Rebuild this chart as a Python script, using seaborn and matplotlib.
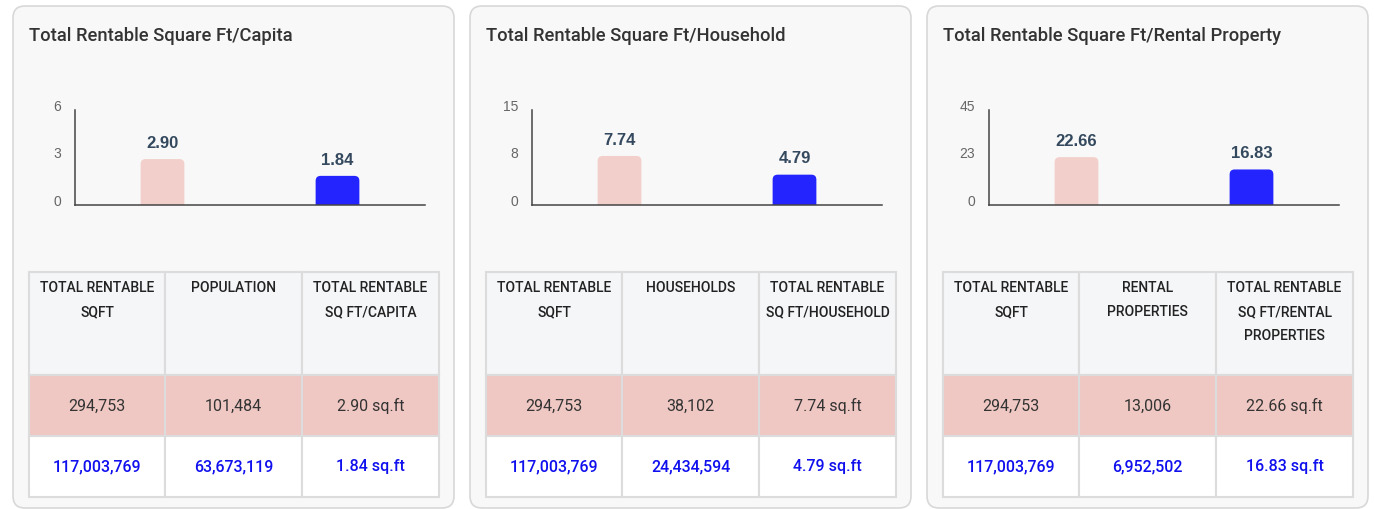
import numpy as np
import pandas as pd
import seaborn as sns
import matplotlib.pyplot as plt
from matplotlib.patches import FancyBboxPatch, Rectangle
from matplotlib.transforms import ScaledTranslation

# chart data
titles = ["Total Rentable Square Ft/Capita",
          "Total Rentable Square Ft/Household",
          "Total Rentable Square Ft/Rental Property"]
categories = ["Local", "Benchmark"]
local_ratio = [2.90, 7.74, 22.66]
bench_ratio = [1.84, 4.79, 16.83]
axis_max = [6, 15, 45]

local_sqft = 294753
bench_sqft = 117003769
local_denom = [101484, 38102, 13006]
bench_denom = [63673119, 24434594, 6952502]

col_headers = [
    ["TOTAL RENTABLE\nSQFT", "POPULATION", "TOTAL RENTABLE\nSQ FT/CAPITA"],
    ["TOTAL RENTABLE\nSQFT", "HOUSEHOLDS", "TOTAL RENTABLE\nSQ FT/HOUSEHOLD"],
    ["TOTAL RENTABLE\nSQFT", "RENTAL\nPROPERTIES", "TOTAL RENTABLE\nSQ FT/RENTAL\nPROPERTIES"],
]

PINK = "#f2cfca"
BLUE = "#2424ff"
ROW_PINK = "#efc8c3"
HEAD_BG = "#f5f6f8"
GRID = "#dcdcdc"
CARD_BG = "#f8f8f8"

sns.set_theme(style="white")
plt.rcParams["font.family"] = ["Roboto", "DejaVu Sans"]

W, H = 1374, 509
fig = plt.figure(figsize=(W / 100, H / 100), dpi=100)
fig.patch.set_facecolor("white")

# full-figure overlay in pixel coords (y down)
bg = fig.add_axes([0, 0, 1, 1], zorder=0)
bg.set_xlim(0, W)
bg.set_ylim(H, 0)
bg.axis("off")

card_step = 457
for i in range(3):
    ox = i * card_step

    # card
    bg.add_patch(FancyBboxPatch((ox + 13, 6), 441, 502,
                                boxstyle="round,pad=0,rounding_size=12",
                                fc=CARD_BG, ec="#d8d8d8", lw=1.2))
    bg.text(ox + 29, 36, titles[i], fontsize=13.2, fontweight=500,
            color="#333333", ha="left", va="center")

    # bar chart
    ax = fig.add_axes([(ox + 75) / W, (H - 205) / H, 350 / W, 95 / H],
                      zorder=2)
    ax.set_facecolor("none")
    df = pd.DataFrame({"group": categories,
                       "value": [local_ratio[i], bench_ratio[i]]})
    sns.barplot(data=df, x="group", y="value", hue="group",
                palette=[PINK, BLUE], width=0.25, saturation=1,
                legend=False, ax=ax)
    ax.set_xlim(-0.5, 1.5)
    ax.set_ylim(0, axis_max[i])
    ticks = [0, axis_max[i] / 2, axis_max[i]]
    ax.set_yticks(ticks)
    ax.set_yticklabels([str(int(t + 0.5)) for t in ticks],
                       fontsize=10, color="#666666",
                       family=["Liberation Sans", "DejaVu Sans"])
    ax.tick_params(axis="y", length=0, pad=10)
    ax.set_xticks([])
    ax.set_xlabel("")
    ax.set_ylabel("")
    for side in ["top", "right"]:
        ax.spines[side].set_visible(False)
    for side in ["left", "bottom"]:
        ax.spines[side].set_color("#444444")
        ax.spines[side].set_linewidth(1.1)
    off = ScaledTranslation(0, 4.5 / 100, fig.dpi_scale_trans)
    for lab in ax.get_yticklabels():
        lab.set_transform(lab.get_transform() + off)

    # rounded top corners for the bars
    to_px = ax.transData + bg.transData.inverted()
    for p in ax.patches:
        x0, y0 = p.get_x(), p.get_y()
        (px0, py0) = to_px.transform((x0, y0))
        (px1, py1) = to_px.transform((x0 + p.get_width(), y0 + p.get_height()))
        rb = FancyBboxPatch((px0, py1), px1 - px0, (py0 - py1) + 8,
                            boxstyle="round,pad=0,rounding_size=5",
                            fc=p.get_facecolor(), ec="none",
                            transform=bg.transData)
        p.set_visible(False)
        ax.add_patch(rb)
    for cont in ax.containers:
        ax.bar_label(cont, fmt="%.2f", padding=6, fontsize=12,
                     fontweight="bold", color="#34495e",
                     family=["Liberation Sans", "DejaVu Sans"])

    # table
    col_x = [ox + 29, ox + 165, ox + 302, ox + 439]
    row_y = [272, 375, 436, 497]
    fills = [HEAD_BG, ROW_PINK, "white"]
    for r in range(3):
        for c in range(3):
            bg.add_patch(Rectangle((col_x[c], row_y[r]),
                                   col_x[c + 1] - col_x[c],
                                   row_y[r + 1] - row_y[r],
                                   fc=fills[r], ec=GRID, lw=1.5, zorder=1))
    local_row = [f"{local_sqft:,}", f"{local_denom[i]:,}",
                 f"{local_ratio[i]:.2f} sq.ft"]
    bench_row = [f"{bench_sqft:,}", f"{bench_denom[i]:,}",
                 f"{bench_ratio[i]:.2f} sq.ft"]
    for c in range(3):
        cx = (col_x[c] + col_x[c + 1]) / 2
        for k, line in enumerate(col_headers[i][c].split("\n")):
            bg.text(cx, 288 + 24 * k, line, fontsize=10, fontweight=500,
                    color="#222222", ha="center", va="center", zorder=3)
        bg.text(cx, 406, local_row[c], fontsize=11.5, color="#333333",
                ha="center", va="center", zorder=3)
        bg.text(cx, 467, bench_row[c], fontsize=11.5, fontweight=500,
                color="#1010ee", ha="center", va="center", zorder=3)

fig.savefig("out.png", dpi=100, facecolor="white")
